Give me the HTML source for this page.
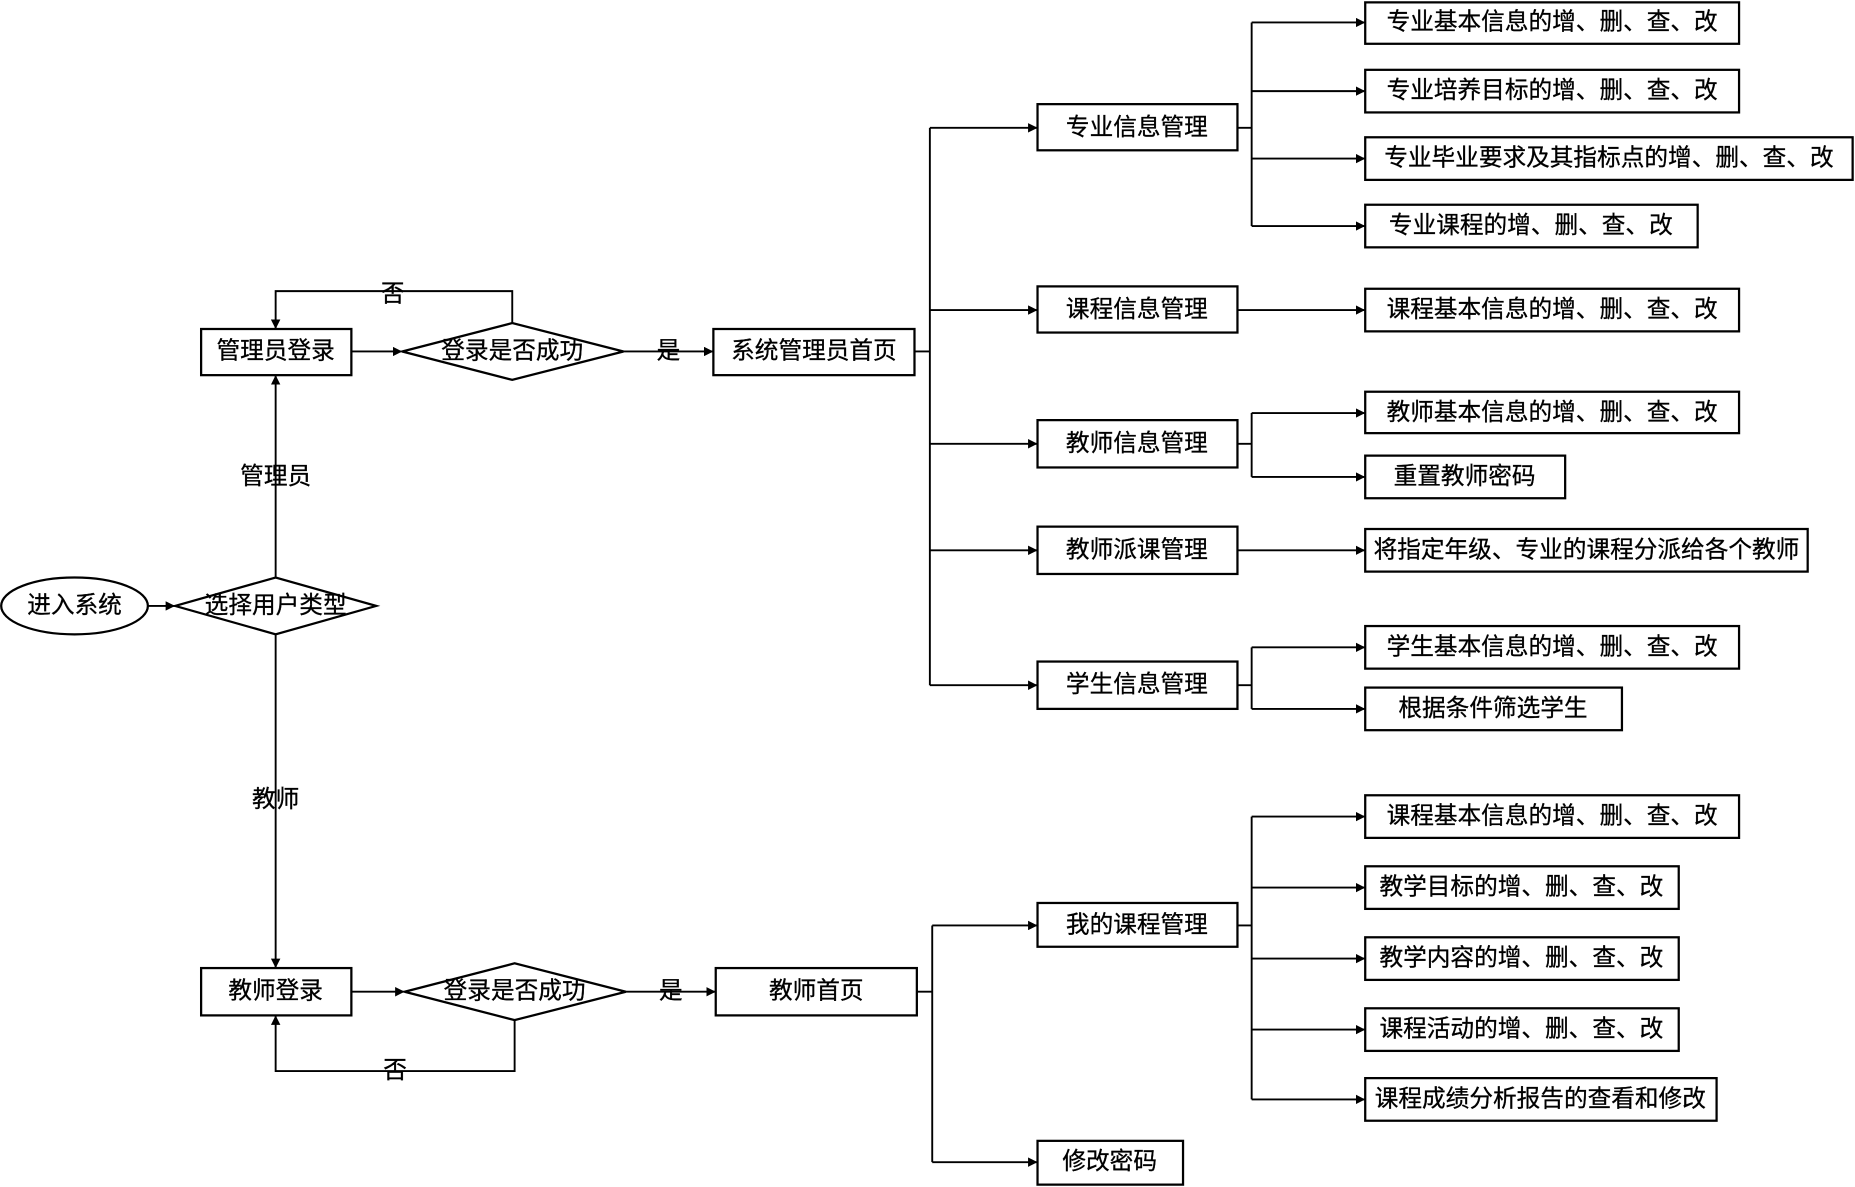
<!DOCTYPE html>
<html><head><meta charset="utf-8"><style>
html,body{margin:0;padding:0;background:#fff;}
svg{display:block}
text{font-family:"Liberation Sans","Noto Sans CJK SC",sans-serif;font-size:20px;fill:#000;dominant-baseline:central;text-anchor:middle;stroke:#000;stroke-width:0.25}
</style></head><body>
<svg width="1855" height="1187" viewBox="0 0 1568 1003" preserveAspectRatio="none" xmlns="http://www.w3.org/2000/svg">
<defs><marker id="a" viewBox="0 0 10 10" refX="10" refY="5" markerWidth="8" markerHeight="8" markerUnits="userSpaceOnUse" orient="auto"><path d="M0,0L10,5L0,10z" fill="#000"/></marker></defs>
<g fill="none" stroke="#000" stroke-width="1.9">
<ellipse cx="63" cy="512" rx="62" ry="24"/>
<polygon points="148,512 233,488 318,512 233,536"/>
<polygon points="340,297 433,273 527,297 433,321"/>
<polygon points="342,838 435,814 529,838 435,862"/>
<rect x="170" y="278" width="127" height="39"/>
<rect x="603" y="278" width="170" height="39"/>
<rect x="170" y="818" width="127" height="40"/>
<rect x="605" y="818" width="170" height="40"/>
<rect x="877" y="88" width="169" height="39"/>
<rect x="877" y="242" width="169" height="39"/>
<rect x="877" y="355" width="169" height="40"/>
<rect x="877" y="445" width="169" height="40"/>
<rect x="877" y="559" width="169" height="40"/>
<rect x="877" y="763" width="169" height="37"/>
<rect x="877" y="964" width="123" height="37"/>
<rect x="1154" y="2" width="316" height="35"/>
<rect x="1154" y="59" width="316" height="36"/>
<rect x="1154" y="116" width="412" height="36"/>
<rect x="1154" y="173" width="281" height="36"/>
<rect x="1154" y="244" width="316" height="36"/>
<rect x="1154" y="331" width="316" height="35"/>
<rect x="1154" y="385" width="169" height="36"/>
<rect x="1154" y="447" width="374" height="36"/>
<rect x="1154" y="529" width="316" height="36"/>
<rect x="1154" y="581" width="217" height="36"/>
<rect x="1154" y="672" width="316" height="36"/>
<rect x="1154" y="732" width="265" height="36"/>
<rect x="1154" y="792" width="265" height="36"/>
<rect x="1154" y="852" width="265" height="36"/>
<rect x="1154" y="911" width="297" height="36"/>
</g>
<g fill="none" stroke="#000" stroke-width="1.6" marker-end="url(#a)">
<path d="M125,512H148"/>
<path d="M233,488V317"/>
<path d="M297,297H340"/>
<path d="M433,273V246H233V278"/>
<path d="M527,297H603"/>
<path d="M233,536V818"/>
<path d="M297,838H342"/>
<path d="M435,862V905H233V858"/>
<path d="M529,838H605"/>
<path d="M786,108H877"/><path d="M786,262H877"/><path d="M786,375H877"/><path d="M786,465H877"/><path d="M786,579H877"/>
<path d="M1058,19H1154"/><path d="M1058,77H1154"/><path d="M1058,134H1154"/><path d="M1058,191H1154"/>
<path d="M1046,262H1154"/>
<path d="M1058,349H1154"/><path d="M1058,403H1154"/>
<path d="M1046,465H1154"/>
<path d="M1058,547H1154"/><path d="M1058,599H1154"/>
<path d="M788,782H877"/><path d="M788,982H877"/>
<path d="M1058,690H1154"/><path d="M1058,750H1154"/><path d="M1058,810H1154"/><path d="M1058,870H1154"/><path d="M1058,929H1154"/>
</g>
<g fill="none" stroke="#000" stroke-width="1.6">
<path d="M773,297H786M786,108V579"/>
<path d="M1046,108H1058M1058,19V191"/>
<path d="M1046,375H1058M1058,349V403"/>
<path d="M1046,579H1058M1058,547V599"/>
<path d="M775,838H788M788,782V982"/>
<path d="M1046,782H1058M1058,690V929"/>
</g>
<g>
<text x="63" y="512">进入系统</text>
<text x="233" y="512">选择用户类型</text>
<text x="233" y="297">管理员登录</text>
<text x="433" y="297">登录是否成功</text>
<text x="688" y="297">系统管理员首页</text>
<text x="233" y="838">教师登录</text>
<text x="435" y="838">登录是否成功</text>
<text x="690" y="838">教师首页</text>
<text x="233" y="403">管理员</text>
<text x="233" y="676">教师</text>
<text x="332" y="249">否</text>
<text x="334" y="905">否</text>
<text x="565" y="297">是</text>
<text x="567" y="838">是</text>
<text x="961" y="108">专业信息管理</text>
<text x="961" y="262">课程信息管理</text>
<text x="961" y="375">教师信息管理</text>
<text x="961" y="465">教师派课管理</text>
<text x="961" y="579">学生信息管理</text>
<text x="961" y="782">我的课程管理</text>
<text x="938" y="982">修改密码</text>
<text x="1312" y="19">专业基本信息的增、删、查、改</text>
<text x="1312" y="77">专业培养目标的增、删、查、改</text>
<text x="1360" y="134">专业毕业要求及其指标点的增、删、查、改</text>
<text x="1294" y="191">专业课程的增、删、查、改</text>
<text x="1312" y="262">课程基本信息的增、删、查、改</text>
<text x="1312" y="349">教师基本信息的增、删、查、改</text>
<text x="1238" y="403">重置教师密码</text>
<text x="1341" y="465">将指定年级、专业的课程分派给各个教师</text>
<text x="1312" y="547">学生基本信息的增、删、查、改</text>
<text x="1262" y="599">根据条件筛选学生</text>
<text x="1312" y="690">课程基本信息的增、删、查、改</text>
<text x="1286" y="750">教学目标的增、删、查、改</text>
<text x="1286" y="810">教学内容的增、删、查、改</text>
<text x="1286" y="870">课程活动的增、删、查、改</text>
<text x="1302" y="929">课程成绩分析报告的查看和修改</text>
</g>
</svg>
</body></html>
